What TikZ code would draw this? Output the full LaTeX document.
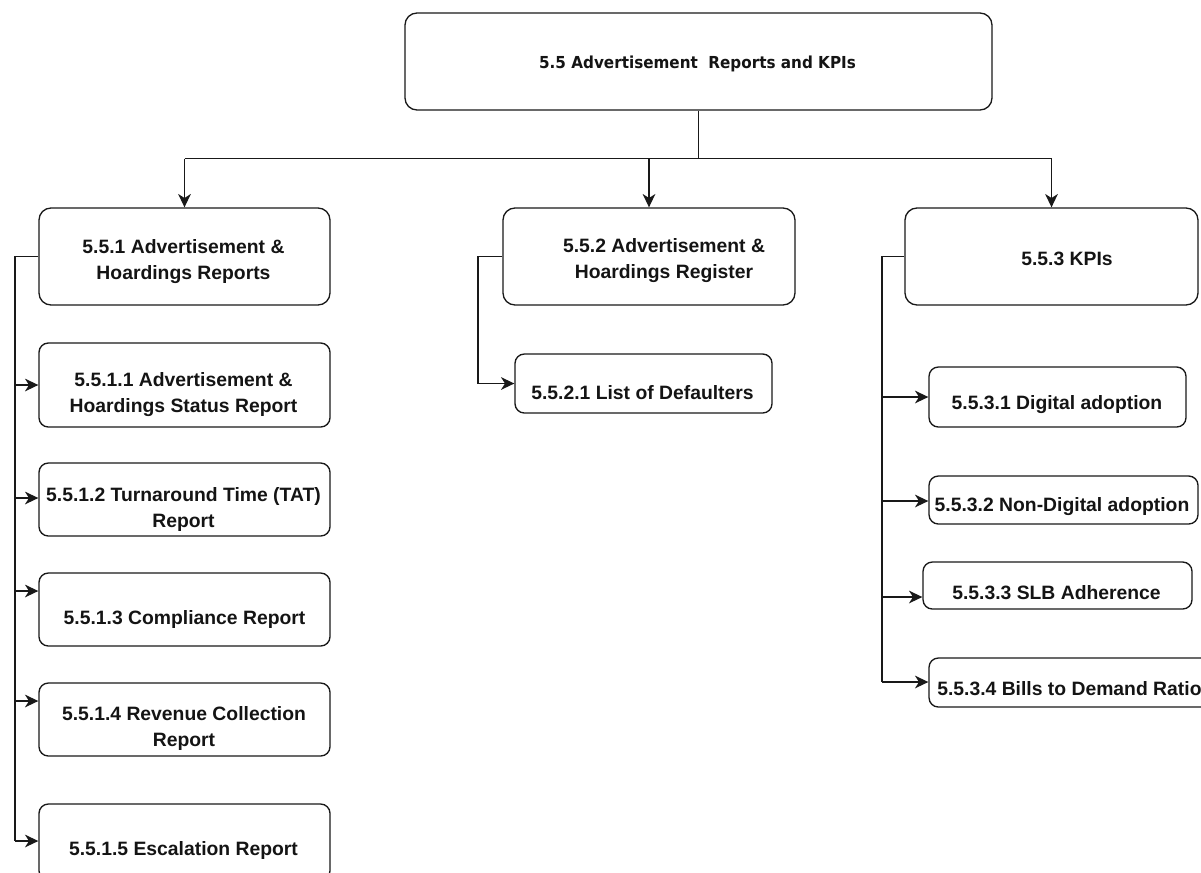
\documentclass[tikz,border=0pt]{standalone}
\usepackage{fontspec}
\usepackage{graphicx}
\setmainfont{Liberation Sans}
\newfontfamily\headfont{DejaVu Sans}
\usetikzlibrary{arrows.meta}
\begin{document}
\begin{tikzpicture}[x=0.75pt,y=-0.75pt,
  box/.style 2 args={draw=black!90, line width=1pt, rounded corners=9pt,
    minimum width=#1*0.75pt, minimum height=#2*0.75pt, inner sep=0pt},
  smallbox/.style 2 args={box={#1}{#2}, rounded corners=7pt},
  lbl/.style={font=\fontsize{14.5pt}{19.5pt}\selectfont\bfseries, text=black!92,
    align=center, inner sep=0pt, yshift=-1.5pt},
  headlbl/.style={font=\headfont\fontsize{12.4pt}{14pt}\selectfont\bfseries,
    text=black!92, inner sep=0pt},
  link/.style={draw=black!90, line width=1pt},
  arr/.style={link, -{Stealth[length=10pt,width=9.5pt,inset=3pt]}}
]
\useasboundingbox (0,0) rectangle (1201,872);
\clip (0,0) rectangle (1201,872);

% root
\node[box={587}{97}] (top) at (698.5,61.5) {};
\node[headlbl] (toptxt) at (697.5,63.5)
  {\scalebox{0.92}[1]{5.5 Advertisement\ \ Reports and KPIs}};

% level 1
\node[box={291}{97}] (a) at (184.5,256.5) {};
\node[lbl] (atxt) at (183.5,259.5) {5.5.1 Advertisement \&\\Hoardings Reports};
\node[box={292}{97}] (b) at (649,256.5) {};
\node[lbl] (btxt) at (664,259) {5.5.2 Advertisement \&\\Hoardings Register};
\node[box={293}{97}] (c) at (1051.5,256.5) {};
\node[lbl] (ctxt) at (1067,257) {5.5.3 KPIs};

% reports column
\node[smallbox={291}{84}] (a1) at (184.5,385) {};
\node[lbl] (a1txt) at (183.5,393) {5.5.1.1 Advertisement \&\\Hoardings Status Report};
\node[smallbox={291}{73}] (a2) at (184.5,499.5) {};
\node[lbl] (a2txt) at (183.5,507) {5.5.1.2 Turnaround Time (TAT)\\Report};
\node[smallbox={291}{73}] (a3) at (184.5,609.5) {};
\node[lbl] (a3txt) at (184.5,617) {5.5.1.3 Compliance Report};
\node[smallbox={291}{73}] (a4) at (184.5,719.5) {};
\node[lbl] (a4txt) at (184,726) {5.5.1.4 Revenue Collection\\Report};
\node[smallbox={291}{76}] (a5) at (184.5,842) {};
\node[lbl] (a5txt) at (183.5,848) {5.5.1.5 Escalation Report};

% register column
\node[smallbox={257}{59}] (b1) at (643.5,383.5) {};
\node[lbl] (b1txt) at (642.5,391) {5.5.2.1 List of Defaulters};

% KPI column
\node[smallbox={257}{60}] (c1) at (1057.5,397) {};
\node[lbl] (c1txt) at (1057,403) {5.5.3.1 Digital adoption};
\node[smallbox={269}{48}] (c2) at (1063.5,500) {};
\node[lbl] (c2txt) at (1062,505) {5.5.3.2 Non-Digital adoption};
\node[smallbox={269}{47}] (c3) at (1057.5,585.5) {};
\node[lbl] (c3txt) at (1056.5,591) {5.5.3.3 SLB Adherence};
\node[smallbox={300}{49}] (c4) at (1079,682.5) {};
\node[lbl, anchor=west] (c4txt) at (937,687) {5.5.3.4 Bills to Demand Ratio};

% root to level 1
\coordinate (bus) at (698.5,158.5);
\draw[link] (top.south) -- (bus);
\draw[link] (a.north |- bus) -- (c.north |- bus);
\draw[arr] (a.north |- bus) -- (a.north);
\draw[arr] (b.north |- bus) -- (b.north);
\draw[arr] (c.north |- bus) -- (c.north);

% reports branch
\coordinate (ta) at (15,256.5);
\draw[link] (a.west) -- (ta) -- (ta |- 0,841);
\draw[arr] (ta |- 0,385) -- (a1.west |- 0,385);
\draw[arr] (ta |- 0,498) -- (a2.west |- 0,498);
\draw[arr] (ta |- 0,591) -- (a3.west |- 0,591);
\draw[arr] (ta |- 0,701) -- (a4.west |- 0,701);
\draw[arr] (ta |- 0,841) -- (a5.west |- 0,841);

% register branch
\coordinate (tb) at (478,256.5);
\draw[arr] (b.west) -- (tb) |- (b1.west);

% KPI branch
\coordinate (tc) at (882,256.5);
\draw[link] (c.west) -- (tc) -- (tc |- 0,682);
\draw[arr] (tc |- 0,397) -- (c1.west |- 0,397);
\draw[arr] (tc |- 0,501) -- (c2.west |- 0,501);
\draw[arr] (tc |- 0,597) -- (c3.west |- 0,597);
\draw[arr] (tc |- 0,682) -- (c4.west |- 0,682);
\end{tikzpicture}
\end{document}
